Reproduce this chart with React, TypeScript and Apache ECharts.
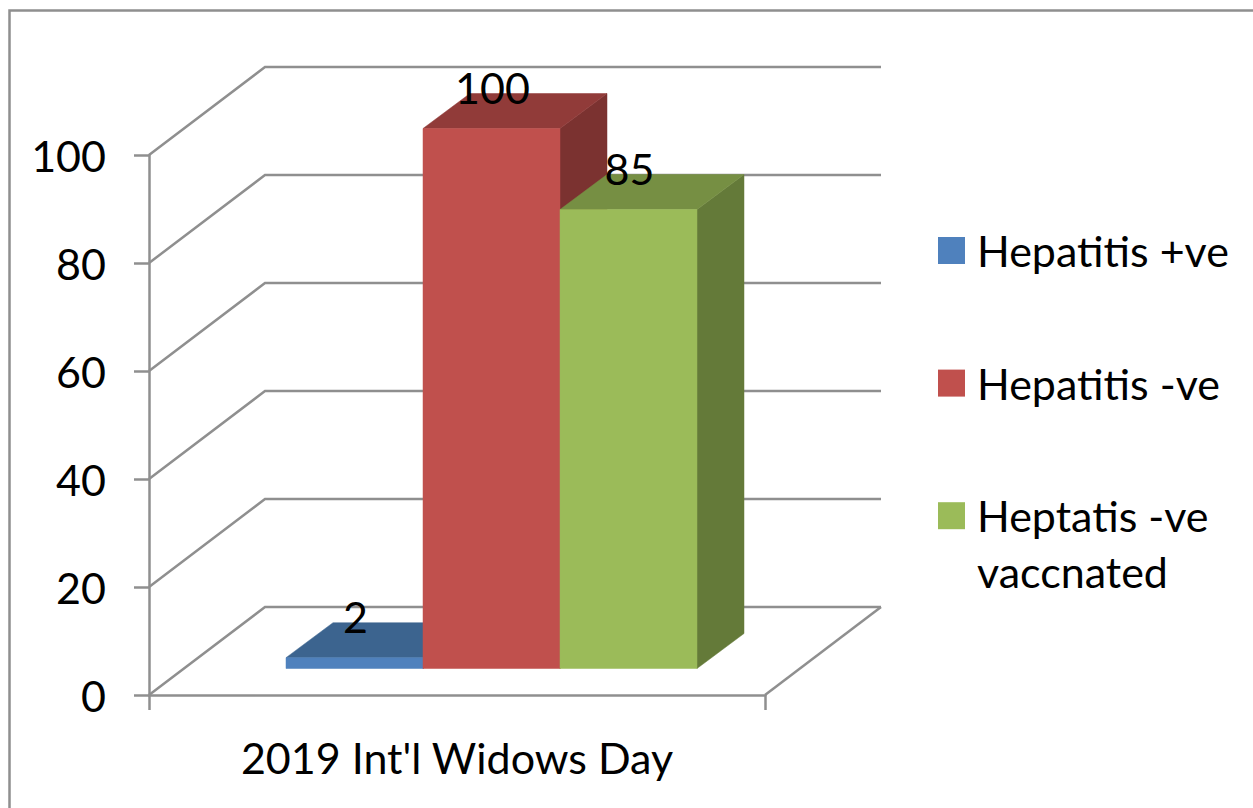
import React, { useEffect, useRef } from "react";
import * as echarts from "echarts";

const categories = ["2019 Int'l Widows Day"];
const seriesNames = ["Hepatitis +ve", "Hepatitis -ve", "Heptatis -ve vaccnated"];
const hepPositive = [2];
const hepNegative = [100];
const hepVaccinated = [85];
const yTicks = [0, 20, 40, 60, 80, 100];

const FONT = "Lato";
const FS = 43;
const LINE = "#8f8f8f";
const LW = 2.5;
const faces = [
  { front: "#4f81bd", top: "#3c648f", side: "#335679" },
  { front: "#c0504d", top: "#913b39", side: "#7b3230" },
  { front: "#9bbb59", top: "#768f43", side: "#647a39" },
];

// oblique projection offsets in pixels
const WALL = { dx: 116, dy: -88 };
const BAR_FRONT = { dx: 34.5, dy: -26.5 };
const BAR_DEPTH = { dx: 47, dy: -35 };
const BAR_RATIO = 137 / 616;

const poly = (points: number[][], fill: string) => ({
  type: "polygon",
  shape: { points },
  style: { fill, stroke: fill, lineWidth: 0.5 },
});

const barSeries = (idx: number, values: number[]) => ({
  type: "custom",
  name: seriesNames[idx],
  itemStyle: { color: faces[idx].front },
  data: values.map((v, i) => [i, v]),
  renderItem: (_p: any, api: any) => {
    const cat = api.value(0);
    const val = api.value(1);
    const bandW = api.size([1, 0])[0];
    const w = bandW * BAR_RATIO;
    const zero = api.coord([cat, 0]);
    const top = api.coord([cat, val]);
    const x0 = zero[0] + BAR_FRONT.dx + (idx - 1.5) * w;
    const x1 = x0 + w;
    const yb = zero[1] + BAR_FRONT.dy;
    const yt = top[1] + BAR_FRONT.dy;
    const { dx, dy } = BAR_DEPTH;
    return {
      type: "group",
      children: [
        poly([[x1, yt], [x1 + dx, yt + dy], [x1 + dx, yb + dy], [x1, yb]], faces[idx].side),
        poly([[x0, yt], [x0 + dx, yt + dy], [x1 + dx, yt + dy], [x1, yt]], faces[idx].top),
        poly([[x0, yt], [x1, yt], [x1, yb], [x0, yb]], faces[idx].front),
        {
          type: "text",
          z2: 100,
          style: {
            x: (x0 + x1) / 2 + 1,
            y: yt - 41,
            text: String(val),
            fill: "#000",
            font: `${FS}px ${FONT}`,
            align: "center",
            verticalAlign: "middle",
          },
        },
      ],
    };
  },
});

const wallSeries = {
  type: "custom",
  name: "walls",
  silent: true,
  data: yTicks.map((v) => [0, v]),
  renderItem: (params: any, api: any) => {
    const y = api.coord([0, api.value(1)])[1];
    const { x, width } = params.coordSys;
    const children: any[] = [
      {
        type: "polyline",
        shape: { points: [[x, y], [x + WALL.dx, y + WALL.dy], [x + width + WALL.dx, y + WALL.dy]] },
        style: { stroke: LINE, lineWidth: LW, fill: "none" },
      },
    ];
    if (api.value(1) === 0) {
      children.push({
        type: "line",
        shape: { x1: x + width, y1: y, x2: x + width + WALL.dx, y2: y + WALL.dy },
        style: { stroke: LINE, lineWidth: LW },
      });
    }
    return { type: "group", children };
  },
};

export default function App() {
  const ref = useRef<HTMLDivElement>(null);
  useEffect(() => {
    const chart = echarts.init(ref.current!, undefined, { renderer: "svg" });
    chart.setOption({
      animation: false,
      backgroundColor: "#fff",
      textStyle: { fontFamily: FONT },
      grid: { left: 149, top: 155, width: 616, height: 540 },
      xAxis: {
        type: "category",
        data: categories,
        axisLine: { lineStyle: { color: LINE, width: LW } },
        axisTick: { show: true, length: 15, lineStyle: { color: LINE, width: LW } },
        axisLabel: { fontSize: FS, fontFamily: FONT, color: "#000", margin: 41 },
      },
      yAxis: {
        type: "value",
        min: 0,
        max: 100,
        interval: 20,
        splitLine: { show: false },
        axisLine: { show: true, lineStyle: { color: LINE, width: LW } },
        axisTick: { show: true, length: 15, lineStyle: { color: LINE, width: LW } },
        axisLabel: { fontSize: FS, fontFamily: FONT, color: "#000", margin: 43 },
      },
      legend: {
        orient: "vertical",
        left: 938,
        top: 229,
        padding: 0,
        itemWidth: 27,
        itemHeight: 27,
        itemGap: 89.6,
        icon: "rect",
        data: seriesNames,
        formatter: (n: string) => (n === seriesNames[2] ? "Heptatis -ve" : n),
        selectedMode: false,
        textStyle: { fontSize: FS, fontFamily: FONT, color: "#000", lineHeight: 27, padding: [0, 0, 0, 7] },
      },
      graphic: [
        {
          type: "rect",
          silent: true,
          z: -10,
          shape: { x: 9.5, y: 10.5, width: 1300, height: 900 },
          style: { fill: "none", stroke: "#8f8f8f", lineWidth: 2.5 },
        },
        {
          type: "text",
          left: 977,
          top: 550,
          style: { text: "vaccnated", fill: "#000", font: `${FS}px ${FONT}` },
        },
      ],
      series: [
        wallSeries,
        barSeries(0, hepPositive),
        barSeries(1, hepNegative),
        barSeries(2, hepVaccinated),
      ],
    });
    return () => chart.dispose();
  }, []);
  return <div ref={ref} style={{ position: "absolute", left: 0, top: 0, width: 1253, height: 808 }} />;
}
